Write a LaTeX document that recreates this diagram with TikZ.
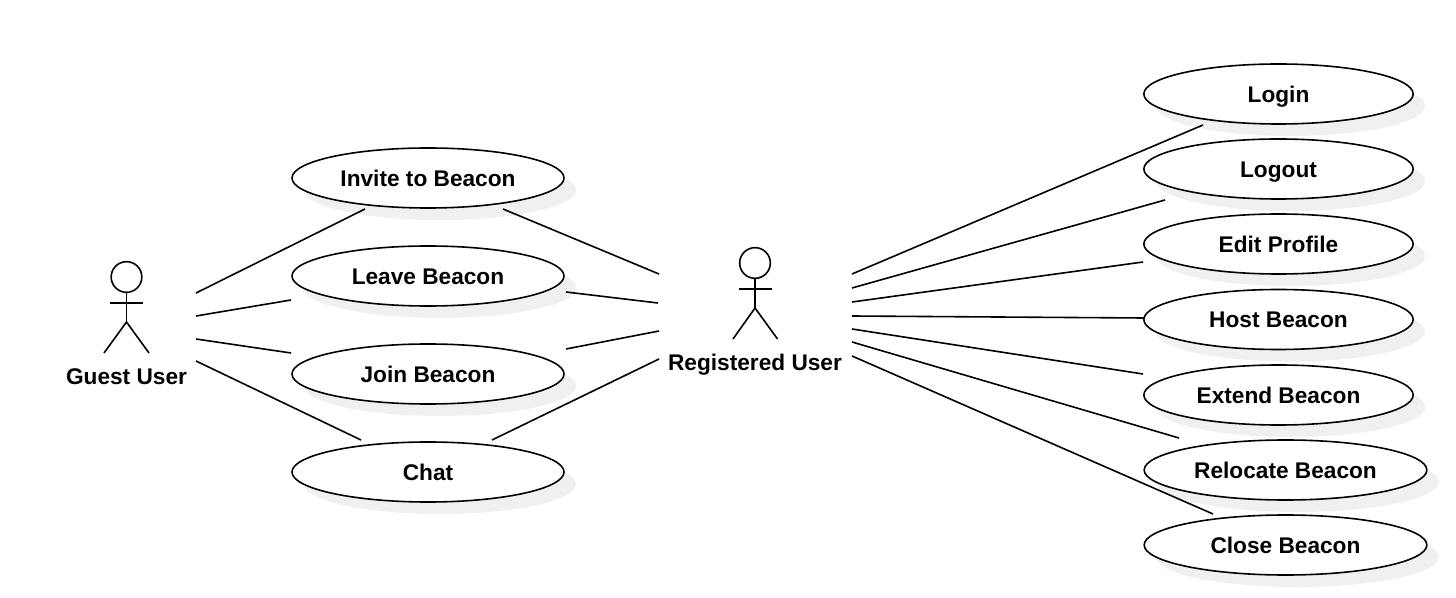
\documentclass[tikz,border=0pt]{standalone}
\usepackage{fontspec}
\setmainfont{Liberation Sans}
\usetikzlibrary{shapes.geometric, shadows}

\begin{document}
\begin{tikzpicture}[
  x=0.75pt, y=-0.75pt,
  every node/.style={font=\fontsize{17}{20}\selectfont\bfseries},
  usecase/.style={ellipse, draw=black, line width=1.2pt, fill=white, inner sep=0pt,
                  text height=12.2pt, text depth=0pt,
                  minimum width=202pt, minimum height=45pt,
                  drop shadow={shadow xshift=9pt, shadow yshift=-9pt, fill=black!6, opacity=1}},
  usecasewide/.style={usecase, minimum width=212pt},
  usecasemid/.style={usecase, minimum width=204pt},
  actorhead/.style={circle, draw=black, line width=1.2pt, inner sep=0pt, minimum size=23pt},
  actorline/.style={line width=1.2pt, black},
  actorname/.style={text height=12.2pt, text depth=0pt},
  assoc/.style={line width=1.2pt, black}
]
  \useasboundingbox (0,0) rectangle (1456,598);

  % use cases, left column
  \node[usecasemid] (invite) at (428,178) {Invite to Beacon};
  \node[usecasemid] (leave) at (428,276) {Leave Beacon};
  \node[usecasemid] (join) at (428,374) {Join Beacon};
  \node[usecasemid] (chat) at (428,472) {Chat};

  % use cases, right column
  \node[usecase] (login) at (1278.5,94) {Login};
  \node[usecase] (logout) at (1278.5,169) {Logout};
  \node[usecase] (edit) at (1278.5,244) {Edit Profile};
  \node[usecase] (host) at (1278.5,319.5) {Host Beacon};
  \node[usecase] (extend) at (1278.5,395) {Extend Beacon};
  \node[usecasewide] (relocate) at (1285.5,470) {Relocate Beacon};
  \node[usecasewide] (close) at (1285.5,545) {Close Beacon};

  % actors
  \node[actorhead] (guesthead) at (126.5,277) {};
  \coordinate (guesthip) at (126.5,322);
  \coordinate (guestarml) at (110,303);
  \coordinate (guestarmr) at (143,303);
  \coordinate (guestfootl) at (104,353);
  \coordinate (guestfootr) at (149,353);
  \draw[actorline] (guesthead.south) -- (guesthip);
  \draw[actorline] (guestarml) -- (guestarmr);
  \draw[actorline] (guestfootl) -- (guesthip) -- (guestfootr);
  \node[actorname] (guest) at (126.5,376) {Guest User};

  \node[actorhead] (reghead) at (755,263) {};
  \coordinate (reghip) at (755,308);
  \coordinate (regarml) at (738.5,289);
  \coordinate (regarmr) at (771.5,289);
  \coordinate (regfootl) at (733,339);
  \coordinate (regfootr) at (777.5,339);
  \draw[actorline] (reghead.south) -- (reghip);
  \draw[actorline] (regarml) -- (regarmr);
  \draw[actorline] (regfootl) -- (reghip) -- (regfootr);
  \node[actorname] (reg) at (755,362) {Registered User};

  % free ends of the associations
  \coordinate (ga) at (196,293);
  \coordinate (gb) at (196,316);
  \coordinate (gc) at (196,339);
  \coordinate (gd) at (196,361);
  \coordinate (ia) at (365,209);
  \coordinate (la) at (291,300);
  \coordinate (ja) at (291,353);
  \coordinate (ca) at (361,440);
  \coordinate (ib) at (503,209);
  \coordinate (lb) at (566,292);
  \coordinate (jb) at (566,349);
  \coordinate (cb) at (492,440);
  \coordinate (ra) at (659,274);
  \coordinate (rb) at (658,303);
  \coordinate (rc) at (659,331);
  \coordinate (rd) at (659,359);
  \coordinate (sa) at (852,274);
  \coordinate (sb) at (852,288);
  \coordinate (sc) at (852,302);
  \coordinate (sd) at (852,316);
  \coordinate (se) at (852,329);
  \coordinate (sf) at (852,342);
  \coordinate (sg) at (852,356);
  \coordinate (ea) at (1203,125);
  \coordinate (eb) at (1165,200);
  \coordinate (ec) at (1143,262);
  \coordinate (ed) at (1144,318);
  \coordinate (ee) at (1143,374);
  \coordinate (ef) at (1179,438);
  \coordinate (eg) at (1213,514);

  % associations
  \draw[assoc] (ga) -- (ia);
  \draw[assoc] (gb) -- (la);
  \draw[assoc] (gc) -- (ja);
  \draw[assoc] (gd) -- (ca);
  \draw[assoc] (ra) -- (ib);
  \draw[assoc] (rb) -- (lb);
  \draw[assoc] (rc) -- (jb);
  \draw[assoc] (rd) -- (cb);
  \draw[assoc] (sa) -- (ea);
  \draw[assoc] (sb) -- (eb);
  \draw[assoc] (sc) -- (ec);
  \draw[assoc] (sd) -- (ed);
  \draw[assoc] (se) -- (ee);
  \draw[assoc] (sf) -- (ef);
  \draw[assoc] (sg) -- (eg);
\end{tikzpicture}
\end{document}
